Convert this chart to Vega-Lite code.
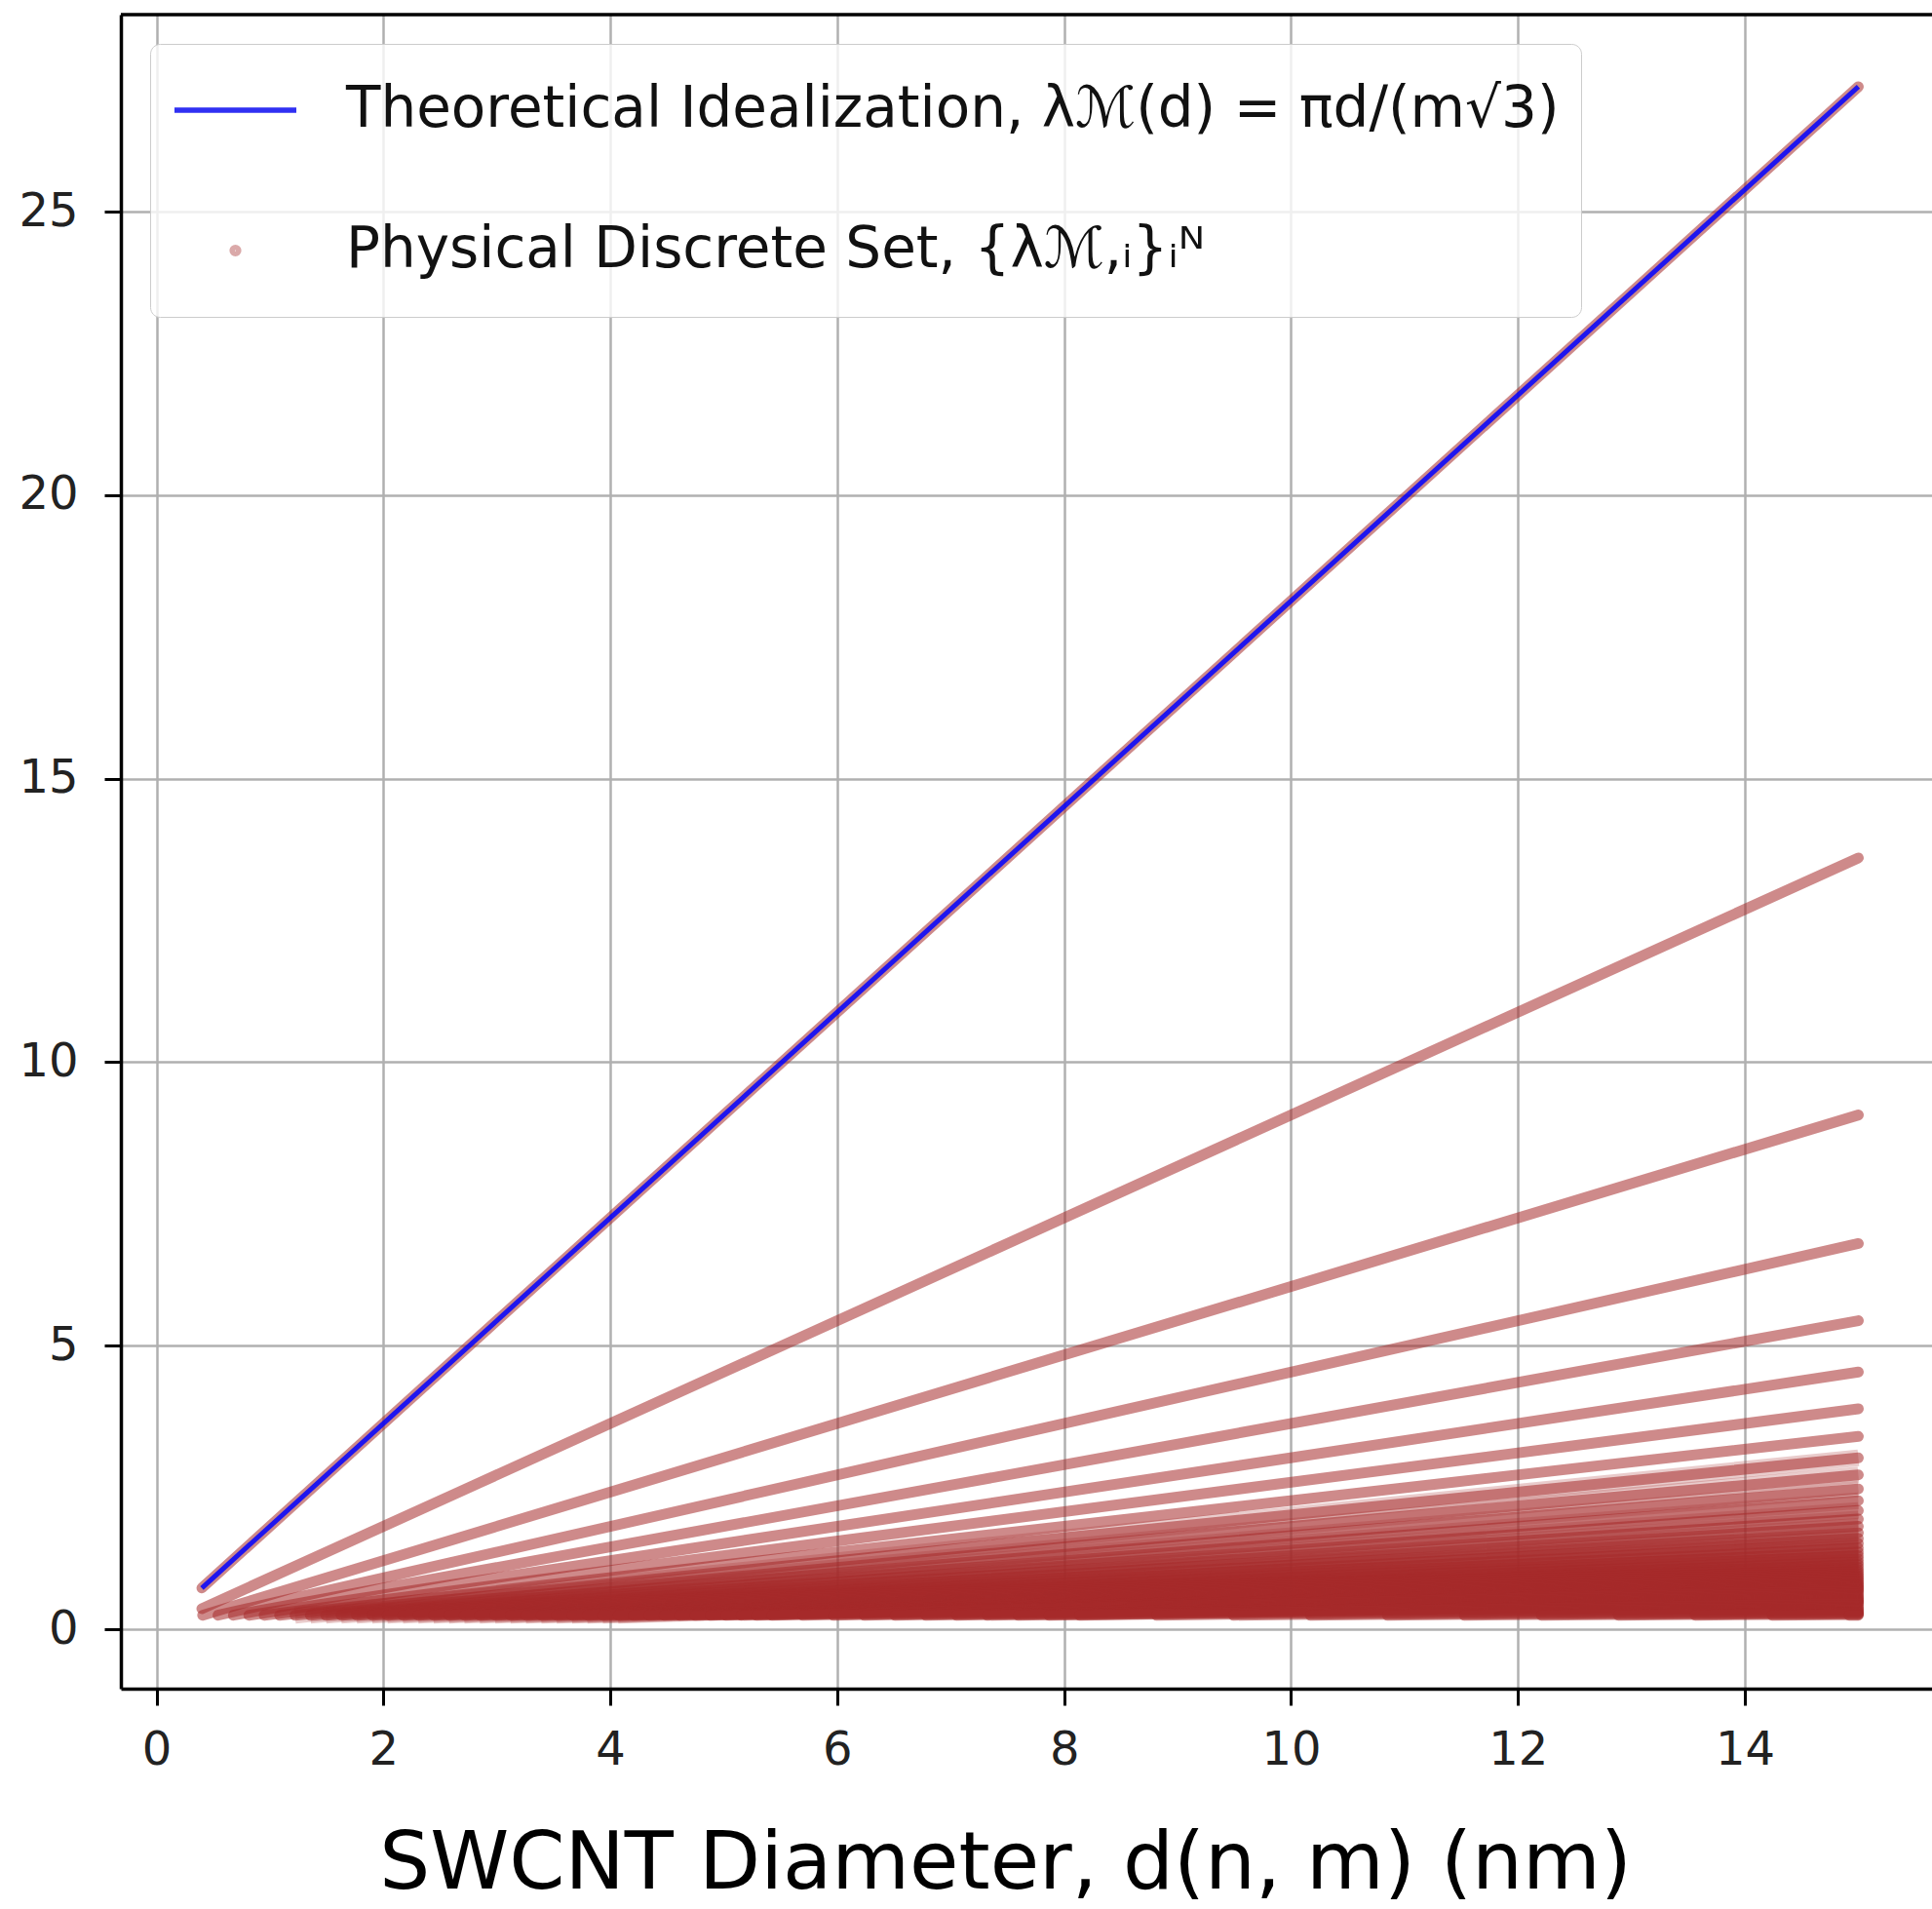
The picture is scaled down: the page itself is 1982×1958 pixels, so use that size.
{
"$schema": "https://vega.github.io/schema/vega-lite/v6.json",
"autosize": {"type": "none"},
"padding": {"left": 124, "top": 15, "right": 0, "bottom": 226},
"width": 1858,
"height": 1717,
"background": "white",
"config": {"view": {"stroke": null}, "font": "DejaVu Sans"},
"datasets": {
"pts": [
{"s":"P","i":1,"d":0.4,"l":0.726},{"s":"P","i":1,"d":15,"l":27.207},
{"s":"P","i":2,"d":0.4,"l":0.363},{"s":"P","i":2,"d":15,"l":13.604},
{"s":"P","i":3,"d":0.407,"l":0.246},{"s":"P","i":3,"d":15,"l":9.069},
{"s":"P","i":4,"d":0.542,"l":0.246},{"s":"P","i":4,"d":15,"l":6.802},
{"s":"P","i":5,"d":0.678,"l":0.246},{"s":"P","i":5,"d":15,"l":5.441},
{"s":"P","i":6,"d":0.814,"l":0.246},{"s":"P","i":6,"d":15,"l":4.535},
{"s":"P","i":7,"d":0.949,"l":0.246},{"s":"P","i":7,"d":15,"l":3.887},
{"s":"P","i":8,"d":1.085,"l":0.246},{"s":"P","i":8,"d":15,"l":3.401},
{"s":"P","i":9,"d":1.221,"l":0.246},{"s":"P","i":9,"d":15,"l":3.023},
{"s":"P","i":10,"d":1.356,"l":0.246},{"s":"P","i":10,"d":15,"l":2.721},
{"s":"P","i":11,"d":1.492,"l":0.246},{"s":"P","i":11,"d":15,"l":2.473},
{"s":"P","i":12,"d":1.627,"l":0.246},{"s":"P","i":12,"d":15,"l":2.267},
{"s":"P","i":13,"d":1.763,"l":0.246},{"s":"P","i":13,"d":15,"l":2.093},
{"s":"P","i":14,"d":1.899,"l":0.246},{"s":"P","i":14,"d":15,"l":1.943},
{"s":"P","i":15,"d":2.034,"l":0.246},{"s":"P","i":15,"d":15,"l":1.814},
{"s":"P","i":16,"d":2.17,"l":0.246},{"s":"P","i":16,"d":15,"l":1.7},
{"s":"P","i":17,"d":2.306,"l":0.246},{"s":"P","i":17,"d":15,"l":1.6},
{"s":"P","i":18,"d":2.441,"l":0.246},{"s":"P","i":18,"d":15,"l":1.512},
{"s":"P","i":19,"d":2.577,"l":0.246},{"s":"P","i":19,"d":15,"l":1.432},
{"s":"P","i":20,"d":2.712,"l":0.246},{"s":"P","i":20,"d":15,"l":1.36},
{"s":"P","i":21,"d":2.848,"l":0.246},{"s":"P","i":21,"d":15,"l":1.296},
{"s":"P","i":22,"d":2.984,"l":0.246},{"s":"P","i":22,"d":15,"l":1.237},
{"s":"P","i":23,"d":3.119,"l":0.246},{"s":"P","i":23,"d":15,"l":1.183},
{"s":"P","i":24,"d":3.255,"l":0.246},{"s":"P","i":24,"d":15,"l":1.134},
{"s":"P","i":25,"d":3.391,"l":0.246},{"s":"P","i":25,"d":15,"l":1.088},
{"s":"P","i":26,"d":3.526,"l":0.246},{"s":"P","i":26,"d":15,"l":1.046},
{"s":"P","i":27,"d":3.662,"l":0.246},{"s":"P","i":27,"d":15,"l":1.008},
{"s":"P","i":28,"d":3.797,"l":0.246},{"s":"P","i":28,"d":15,"l":0.972},
{"s":"P","i":29,"d":3.933,"l":0.246},{"s":"P","i":29,"d":15,"l":0.938},
{"s":"P","i":30,"d":4.069,"l":0.246},{"s":"P","i":30,"d":15,"l":0.907},
{"s":"P","i":31,"d":4.204,"l":0.246},{"s":"P","i":31,"d":15,"l":0.878},
{"s":"P","i":32,"d":4.34,"l":0.246},{"s":"P","i":32,"d":15,"l":0.85},
{"s":"P","i":33,"d":4.475,"l":0.246},{"s":"P","i":33,"d":15,"l":0.824},
{"s":"P","i":34,"d":4.611,"l":0.246},{"s":"P","i":34,"d":15,"l":0.8},
{"s":"P","i":35,"d":4.747,"l":0.246},{"s":"P","i":35,"d":15,"l":0.777},
{"s":"P","i":36,"d":4.882,"l":0.246},{"s":"P","i":36,"d":15,"l":0.756},
{"s":"P","i":37,"d":5.018,"l":0.246},{"s":"P","i":37,"d":15,"l":0.735},
{"s":"P","i":38,"d":5.154,"l":0.246},{"s":"P","i":38,"d":15,"l":0.716},
{"s":"P","i":39,"d":5.289,"l":0.246},{"s":"P","i":39,"d":15,"l":0.698},
{"s":"P","i":40,"d":5.425,"l":0.246},{"s":"P","i":40,"d":15,"l":0.68},
{"s":"P","i":42,"d":5.696,"l":0.246},{"s":"P","i":42,"d":15,"l":0.648},
{"s":"P","i":44,"d":5.967,"l":0.246},{"s":"P","i":44,"d":15,"l":0.618},
{"s":"P","i":46,"d":6.239,"l":0.246},{"s":"P","i":46,"d":15,"l":0.591},
{"s":"P","i":48,"d":6.51,"l":0.246},{"s":"P","i":48,"d":15,"l":0.567},
{"s":"P","i":50,"d":6.781,"l":0.246},{"s":"P","i":50,"d":15,"l":0.544},
{"s":"P","i":52,"d":7.052,"l":0.246},{"s":"P","i":52,"d":15,"l":0.523},
{"s":"P","i":54,"d":7.323,"l":0.246},{"s":"P","i":54,"d":15,"l":0.504},
{"s":"P","i":56,"d":7.595,"l":0.246},{"s":"P","i":56,"d":15,"l":0.486},
{"s":"P","i":58,"d":7.866,"l":0.246},{"s":"P","i":58,"d":15,"l":0.469},
{"s":"P","i":60,"d":8.137,"l":0.246},{"s":"P","i":60,"d":15,"l":0.453},
{"s":"P","i":65,"d":8.815,"l":0.246},{"s":"P","i":65,"d":15,"l":0.419},
{"s":"P","i":70,"d":9.493,"l":0.246},{"s":"P","i":70,"d":15,"l":0.389},
{"s":"P","i":75,"d":10.171,"l":0.246},{"s":"P","i":75,"d":15,"l":0.363},
{"s":"P","i":80,"d":10.85,"l":0.246},{"s":"P","i":80,"d":15,"l":0.34},
{"s":"P","i":85,"d":11.528,"l":0.246},{"s":"P","i":85,"d":15,"l":0.32},
{"s":"P","i":90,"d":12.206,"l":0.246},{"s":"P","i":90,"d":15,"l":0.302},
{"s":"P","i":95,"d":12.884,"l":0.246},{"s":"P","i":95,"d":15,"l":0.286},
{"s":"P","i":100,"d":13.562,"l":0.246},{"s":"P","i":100,"d":15,"l":0.272},
{"s":"P","i":105,"d":14.24,"l":0.246},{"s":"P","i":105,"d":15,"l":0.259},
{"s":"P","i":110,"d":14.918,"l":0.246},{"s":"P","i":110,"d":15,"l":0.247}
],
"theo": [
{"s":"T","d":0.4,"l":0.726},{"s":"T","d":15,"l":27.207}
]
},
"layer": [
{
"data": {"name": "pts"},
"transform": [{"filter": "datum.i >= 9 && datum.i <= 30"}],
"mark": {"type": "line", "color": "#a52a2a", "strokeWidth": 17, "opacity": 0.24, "strokeCap": "butt", "clip": true},
"encoding": {
"x": {"field": "d", "type": "quantitative",
"scale": {"domain": [-0.3136, 15.649], "nice": false, "zero": false},
"axis": {"values": [0,2,4,6,8,10,12,14], "format": "d",
"title": "SWCNT Diameter, d(n, m) (nm)", "titleFontSize": 82, "titleFontWeight": "normal", "titleColor": "#000", "titleFont": "DejaVu Sans",
"titleY": 204, "titleX": 907, "titleBaseline": "alphabetic", "titleAlign": "center",
"labelFontSize": 48, "labelFont": "DejaVu Sans", "labelColor": "#222", "labelPadding": 22, "labelFlush": false, "labelOverlap": false,
"tickSize": 17, "tickWidth": 3, "tickColor": "#000", "domainColor": "#000", "domainWidth": 3.5,
"grid": true, "gridColor": "#b0b0b0", "gridWidth": 2.5}},
"y": {"field": "l", "type": "quantitative",
"scale": {"domain": [-1.049, 28.478], "nice": false, "zero": false},
"axis": {"values": [0,5,10,15,20,25], "format": "d", "title": null,
"labelFontSize": 48, "labelFont": "DejaVu Sans", "labelColor": "#222", "labelPadding": 27, "labelFlush": false, "labelOverlap": false,
"tickSize": 17, "tickWidth": 3, "tickColor": "#000", "domainColor": "#000", "domainWidth": 3.5,
"grid": true, "gridColor": "#b0b0b0", "gridWidth": 2.5}},
"detail": {"field": "i", "type": "nominal"},
"order": {"field": "d", "type": "quantitative"}
}
},
{
"data": {"name": "pts"},
"mark": {"type": "line", "color": "#a52a2a", "strokeWidth": 11, "opacity": 0.55, "strokeCap": "round", "clip": true},
"encoding": {
"x": {"field": "d", "type": "quantitative"},
"y": {"field": "l", "type": "quantitative"},
"detail": {"field": "i", "type": "nominal"},
"order": {"field": "d", "type": "quantitative"}
}
},
{
"data": {"name": "theo"},
"mark": {"type": "line", "color": "#0000ff", "strokeWidth": 5, "opacity": 0.85, "clip": true},
"encoding": {
"x": {"field": "d", "type": "quantitative"},
"y": {"field": "l", "type": "quantitative"}
}
},
{
"data": {"values": []},
"mark": {"type": "point", "filled": false, "strokeWidth": 5.5, "clip": true},
"encoding": {
"x": {"field": "d", "type": "quantitative"},
"y": {"field": "l", "type": "quantitative"},
"color": {"field": "s", "type": "nominal",
"scale": {"domain": ["T", "P"], "range": ["#1a1af2", "#a52a2a"]},
"legend": {"orient": "top-left", "offset": 30, "title": null, "padding": 22,
"fillColor": "rgba(255,255,255,0.8)", "strokeColor": "#cccccc", "cornerRadius": 10,
"labelFontSize": 58, "labelFont": "DejaVu Sans", "labelColor": "#111", "labelLimit": 0, "labelOffset": 48,
"rowPadding": 52, "clipHeight": 92, "symbolStrokeWidth": 5.5,
"labelExpr": "datum.value === 'T' ? 'Theoretical Idealization, λℳ(d) = πd/(m√3)' : 'Physical Discrete Set, {λℳ,ᵢ}ᵢᴺ'"}},
"shape": {"field": "s", "type": "nominal",
"scale": {"domain": ["T", "P"], "range": ["stroke", "circle"]}},
"size": {"field": "s", "type": "nominal",
"scale": {"type": "point", "domain": ["T", "P"], "range": [15625, 45], "padding": 0}},
"opacity": {"field": "s", "type": "nominal",
"scale": {"type": "point", "domain": ["T", "P"], "range": [0.9, 0.4], "padding": 0}}
}
},
{
"data": {"values": [{}]},
"mark": {"type": "rule", "color": "#000", "strokeWidth": 3.5},
"encoding": {"y": {"datum": 28.478}}
}
]
}
